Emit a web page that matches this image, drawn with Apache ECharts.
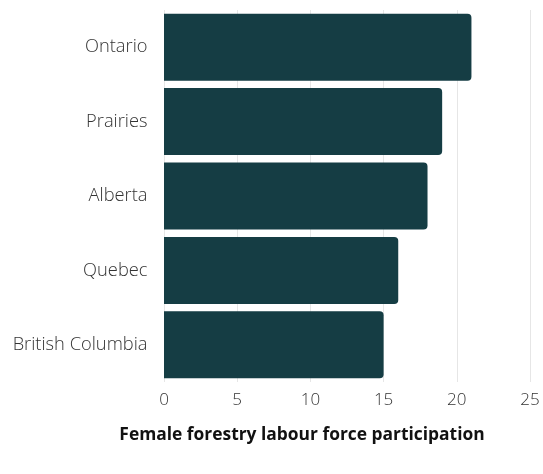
<!DOCTYPE html>
<html>
<head>
<meta charset="utf-8">
<script src="https://cdn.jsdelivr.net/npm/echarts@6/dist/echarts.min.js"></script>
<style>html,body{margin:0;padding:0;background:#fff;}#c{width:543px;height:474px;}</style>
</head>
<body>
<div id="c"></div>
<script>
const categories = ["Ontario", "Prairies", "Alberta", "Quebec", "British Columbia"];
const values = [21, 19, 18, 16, 15];
const axisTitle = "Female forestry labour force participation";

const chart = echarts.init(document.getElementById('c'), null, {renderer: 'canvas'});
chart.setOption({
  animation: false,
  backgroundColor: '#ffffff',
  textStyle: {fontFamily: 'Open Sans'},
  title: {
    text: axisTitle,
    left: 297,
    top: 422,
    textAlign: 'center',
    textStyle: {fontFamily: 'Open Sans', fontWeight: 'bold', fontSize: 17.4, color: '#111'}
  },
  grid: {left: 164, right: 13, top: 10, height: 372, containLabel: false},
  xAxis: {
    type: 'value', min: 0, max: 25, interval: 5,
    axisLine: {show: false}, axisTick: {show: false},
    splitLine: {show: true, lineStyle: {color: '#e6e6e6', width: 1}},
    axisLabel: {fontSize: 17, fontWeight: 300, color: '#333', margin: 10, fontFamily: 'Open Sans'}
  },
  yAxis: {
    type: 'category', data: categories, inverse: true,
    axisLine: {show: false}, axisTick: {show: false},
    axisLabel: {fontSize: 18.3, fontWeight: 300, color: '#333', margin: 16.5, fontFamily: 'Open Sans', padding: [3, 0, 0, 0]}
  },
  series: [{
    type: 'bar', data: values, barCategoryGap: '10%',
    itemStyle: {color: '#153d44', borderRadius: [0, 4, 4, 0]}
  }]
});
</script>
</body>
</html>
